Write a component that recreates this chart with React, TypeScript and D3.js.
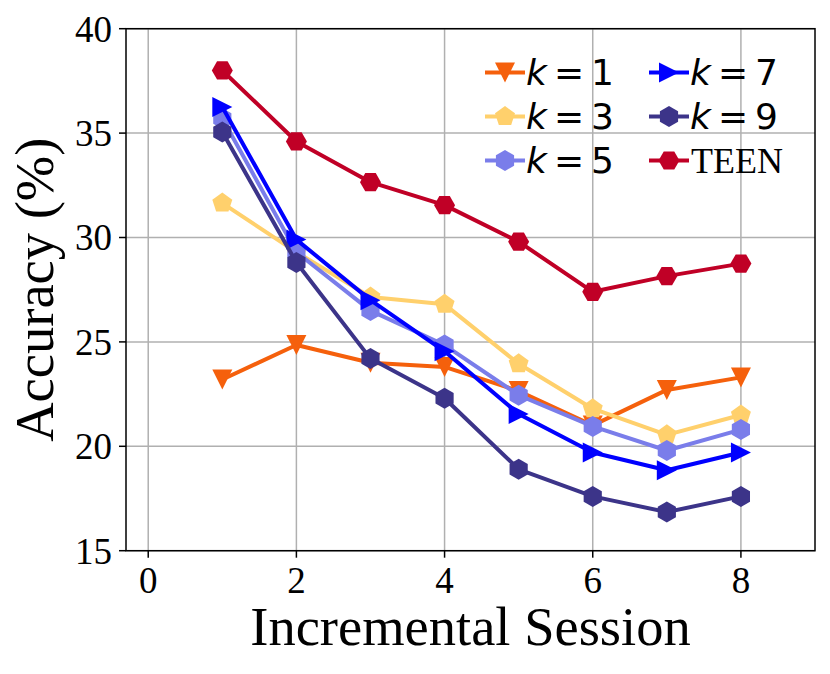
import React from "react";
import * as d3 from "d3";

const sessions = [1, 2, 3, 4, 5, 6, 7, 8];
const k1 = [23.2, 24.85, 24.0, 23.8, 22.65, 21.0, 22.7, 23.3];
const k3 = [31.65, 29.3, 27.15, 26.8, 23.95, 21.8, 20.55, 21.5];
const k5 = [35.7, 29.3, 26.5, 24.85, 22.45, 20.95, 19.8, 20.8];
const k7 = [36.25, 29.9, 27.0, 24.55, 21.55, 19.7, 18.85, 19.7];
const k9 = [35.05, 28.8, 24.2, 22.3, 18.9, 17.6, 16.85, 17.6];
const teen = [38.0, 34.6, 32.65, 31.55, 29.8, 27.4, 28.15, 28.75];

const xTicks = [0, 2, 4, 6, 8];
const yTicks = [15, 20, 25, 30, 35, 40];

type Marker = "v" | "p" | "h" | ">" | "H";
const series: { label: string; values: number[]; color: string; marker: Marker; math: boolean }[] = [
  { label: "1", values: k1, color: "#F5600C", marker: "v", math: true },
  { label: "3", values: k3, color: "#FFD06C", marker: "p", math: true },
  { label: "5", values: k5, color: "#7A7DEA", marker: "h", math: true },
  { label: "7", values: k7, color: "#0000FF", marker: ">", math: true },
  { label: "9", values: k9, color: "#3C3489", marker: "h", math: true },
  { label: "TEEN", values: teen, color: "#C00026", marker: "H", math: false },
];

function poly(n: number, r: number, rot: number): string {
  const pts: [number, number][] = [];
  for (let i = 0; i < n; i++) {
    const a = rot + (i * 2 * Math.PI) / n;
    pts.push([r * Math.sin(a), -r * Math.cos(a)]);
  }
  return "M" + pts.map((p) => p[0].toFixed(2) + "," + p[1].toFixed(2)).join("L") + "Z";
}

function markerPath(m: Marker): string {
  const s = 10;
  switch (m) {
    case "v":
      return `M${-s},${-s}L${s},${-s}L0,${s}Z`;
    case ">":
      return `M${s},0L${-s},${-s}L${-s},${s}Z`;
    case "p":
      return poly(5, s + 0.5, 0);
    case "h":
      return poly(6, s + 0.5, 0);
    case "H":
      return poly(6, s + 0.5, Math.PI / 6);
  }
}

const W = 830;
const H = 674;
const L = 126, R = 815, T = 28.7, B = 550.7;

export default function App() {
  const x = d3.scaleLinear().domain([-0.3, 9]).range([L, R]);
  const y = d3.scaleLinear().domain([15, 40]).range([B, T]);
  const line = d3
    .line<number>()
    .x((_, i) => x(sessions[i]))
    .y((d) => y(d));

  const serif = "'Liberation Serif', 'Times New Roman', serif";
  const sans = "'DejaVu Sans', sans-serif";

  const legendRows = [85, 129, 173];
  const legendCols = [485, 649];

  return (
    <svg width={W} height={H} style={{ position: "absolute", left: 0, top: 0, background: "#fff" }}>
      <rect x={0} y={0} width={W} height={H} fill="#fff" />
      {/* grid */}
      {xTicks.map((t) => (
        <line key={"gx" + t} x1={x(t)} x2={x(t)} y1={T} y2={B} stroke="#b0b0b0" strokeWidth={1.5} />
      ))}
      {yTicks.map((t) => (
        <line key={"gy" + t} x1={L} x2={R} y1={y(t)} y2={y(t)} stroke="#b0b0b0" strokeWidth={1.5} />
      ))}
      {/* series */}
      {series.map((s) => (
        <g key={s.label}>
          <path d={line(s.values) || ""} fill="none" stroke={s.color} strokeWidth={4} strokeLinejoin="round" />
          {s.values.map((v, i) => (
            <path
              key={i}
              d={markerPath(s.marker)}
              transform={`translate(${x(sessions[i])},${y(v)})`}
              fill={s.color}
            />
          ))}
        </g>
      ))}
      {/* spines */}
      <rect x={L} y={T} width={R - L} height={B - T} fill="none" stroke="#000" strokeWidth={1.5} />
      {/* ticks */}
      {xTicks.map((t) => (
        <g key={"tx" + t}>
          <line x1={x(t)} x2={x(t)} y1={B} y2={B + 7} stroke="#000" strokeWidth={1.5} />
          <text x={x(t)} y={593} textAnchor="middle" fontFamily={serif} fontSize={37}>
            {t}
          </text>
        </g>
      ))}
      {yTicks.map((t) => (
        <g key={"ty" + t}>
          <line x1={L - 7} x2={L} y1={y(t)} y2={y(t)} stroke="#000" strokeWidth={1.5} />
          <text x={112} y={y(t) + 12.8} textAnchor="end" fontFamily={serif} fontSize={37}>
            {t}
          </text>
        </g>
      ))}
      {/* axis labels */}
      <text x={(L + R) / 2} y={645} textAnchor="middle" fontFamily={serif} fontSize={54.5}>
        Incremental Session
      </text>
      <text
        transform={`translate(53,${(T + B) / 2}) rotate(-90)`}
        textAnchor="middle"
        fontFamily={serif}
        fontSize={54.5}
      >
        Accuracy (%)
      </text>
      {/* legend */}
      {series.map((s, i) => {
        const col = Math.floor(i / 3);
        const row = i % 3;
        const x0 = legendCols[col];
        const base = legendRows[row];
        const ly = base - 12.5;
        return (
          <g key={"lg" + s.label}>
            <line x1={x0} x2={x0 + 40} y1={ly} y2={ly} stroke={s.color} strokeWidth={4} />
            <path d={markerPath(s.marker)} transform={`translate(${x0 + 20},${ly})`} fill={s.color} />
            {s.math ? (
              <g fontFamily={sans} fontSize={36}>
                <text x={x0 + 41} y={base} fontStyle="italic">k</text>
                <text x={x0 + 69} y={base}>=</text>
                <text x={x0 + 106} y={base}>{s.label}</text>
              </g>
            ) : (
              <text x={x0 + 42} y={base} fontFamily={serif} fontSize={36}>
                {s.label}
              </text>
            )}
          </g>
        );
      })}
    </svg>
  );
}
